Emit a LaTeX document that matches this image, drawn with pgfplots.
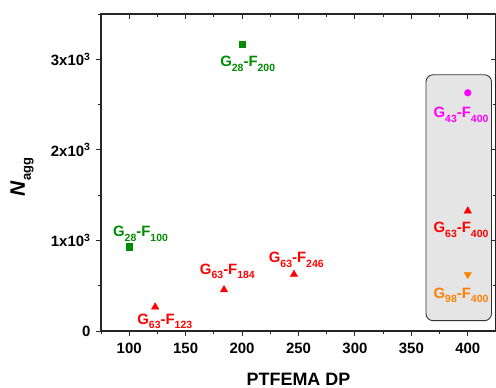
\documentclass[border=0pt]{standalone}
\usepackage{pgfplots}
\pgfplotsset{compat=1.18}
\usepackage{fontspec}
\setmainfont{Liberation Sans}
\definecolor{cgreen}{RGB}{0,140,0}
\definecolor{cred}{RGB}{255,0,0}
\definecolor{cmag}{RGB}{255,0,255}
\definecolor{corange}{RGB}{255,128,0}
\newcommand\sub[1]{\raisebox{-0.28em}{\fontsize{10.5}{12}\selectfont #1}}
\newcommand\lab[2]{\fontsize{15}{18}\selectfont\bfseries G\sub{#1}-F\sub{#2}}
\begin{document}
\begin{tikzpicture}
\useasboundingbox (-101bp,-57bp) rectangle (395bp,331bp);
\begin{axis}[
  scale only axis, width=395bp, height=317bp,
  xmin=75, xmax=425, ymin=0, ymax=3500,
  xtick={100,150,...,400}, minor xtick={75,125,...,425},
  ytick={0,1000,2000,3000}, minor ytick={500,1500,2500,3500},
  yticklabels={0,1x10\textsuperscript{3},2x10\textsuperscript{3},3x10\textsuperscript{3}},
  scaled y ticks=false,
  xtick pos=bottom, ytick pos=left,
  tick align=outside,
  major tick length=5bp, minor tick length=3bp,
  axis line style={line width=1.1pt, black!85},
  every tick/.style={line width=1pt, black!85},
  tick label style={font=\fontsize{15}{18}\selectfont\bfseries},
  /pgf/number format/assume math mode=true,
  xticklabel style={yshift=-4bp},
  yticklabel style={xshift=-2bp},
  xlabel={\fontsize{18}{20}\selectfont\bfseries PTFEMA DP},
  ylabel={\fontsize{21}{24}\selectfont\bfseries\itshape N\upshape\raisebox{-0.28em}{\fontsize{13}{15}\selectfont agg}},
  xlabel style={at={(axis description cs:0.5,-0.151)}, anchor=center},
  ylabel style={at={(axis description cs:-0.2,0.486)}, anchor=center},
  clip=false,
]
\draw[rounded corners=7bp, fill=black!10, draw=black!80, line width=0.9pt] (axis cs:363,114) rectangle (axis cs:421,2829);
\addplot[only marks, mark=square*, mark size=3.2pt, color=cgreen] coordinates {(100,930) (200,3170)};
\addplot[only marks, mark=triangle*, mark size=4.3pt, color=cred] coordinates {(123,265) (184,455) (246,625) (400,1325)};
\addplot[only marks, mark=*, mark size=3.4pt, color=cmag] coordinates {(400,2630)};
\addplot[only marks, mark=triangle*, mark options={rotate=180}, mark size=4.3pt, color=corange] coordinates {(400,625)};
\node[text=cgreen] at (axis cs:205,2950) {\lab{28}{200}};
\node[text=cgreen] at (axis cs:110,1072) {\lab{28}{100}};
\node[text=cred] at (axis cs:131.5,110) {\lab{63}{123}};
\node[text=cred] at (axis cs:187,655) {\lab{63}{184}};
\node[text=cred] at (axis cs:248,785) {\lab{63}{246}};
\node[text=cmag] at (axis cs:394,2387) {\lab{43}{400}};
\node[text=cred] at (axis cs:394,1116) {\lab{63}{400}};
\node[text=corange] at (axis cs:394,398) {\lab{98}{400}};
\end{axis}
\begin{axis}[
  scale only axis, width=395bp, height=317bp,
  xmin=75, xmax=425, ymin=0, ymax=3500,
  xtick={100,150,...,400}, minor xtick={75,125,...,425},
  ytick={0,1000,2000,3000}, minor ytick={500,1500,2500,3500},
  xtick pos=top, ytick pos=right,
  tick align=inside,
  xticklabels={}, yticklabels={},
  major tick length=5bp, minor tick length=3bp,
  axis line style={line width=1.1pt, black!85},
  every tick/.style={line width=1pt, black!85},
]
\end{axis}
\end{tikzpicture}
\end{document}
